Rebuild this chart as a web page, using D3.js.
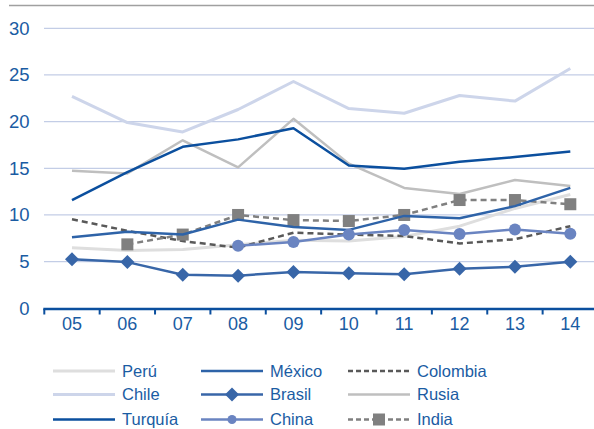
<!DOCTYPE html>
<html><head><meta charset="utf-8">
<script src="https://cdn.jsdelivr.net/npm/d3@7"></script>
<style>html,body{margin:0;padding:0;background:#fff;}svg{display:block;font-family:"Liberation Sans",Arial,sans-serif;}</style>
</head><body><svg id="c" width="594" height="429"></svg>
<script>
const years = ["05","06","07","08","09","10","11","12","13","14"];
const yTicks = [0,5,10,15,20,25,30];
const peru     = [6.5,6.2,6.3,6.8,7.3,7.2,7.7,8.8,10.7,12.2];
const chile    = [22.7,19.9,18.9,21.3,24.3,21.4,20.9,22.8,22.2,25.7];
const turquia  = [11.6,14.6,17.3,18.1,19.3,15.3,14.95,15.7,16.2,16.8];
const rusia    = [14.75,14.45,18.0,15.1,20.3,15.5,12.9,12.25,13.75,13.1];
const mexico   = [7.6,8.2,7.9,9.5,8.7,8.4,9.9,9.65,10.95,12.9];
const colombia = [9.55,8.3,7.2,6.5,8.1,7.9,7.75,6.95,7.4,8.8];
const brasil   = [5.25,4.95,3.6,3.5,3.9,3.75,3.65,4.25,4.45,5.0];
const china    = [null,null,null,6.7,7.1,7.9,8.4,7.95,8.45,8.0];
const india    = [null,6.85,7.9,10.0,9.45,9.35,10.0,11.6,11.6,11.15];

const series = [
  {name:"Perú", values:peru, color:"#dedede", width:3, dash:null, marker:null},
  {name:"Chile", values:chile, color:"#cdd5ea", width:3, dash:null, marker:null},
  {name:"Turquía", values:turquia, color:"#0b4f9e", width:2.5, dash:null, marker:null},
  {name:"México", values:mexico, color:"#2e63a8", width:2.5, dash:null, marker:null},
  {name:"Brasil", values:brasil, color:"#3866a8", width:2.5, dash:null, marker:"diamond"},
  {name:"China", values:china, color:"#6a84c1", width:2.5, dash:null, marker:"circle"},
  {name:"Colombia", values:colombia, color:"#595959", width:2.5, dash:"6,4", marker:null},
  {name:"Rusia", values:rusia, color:"#bfbfbf", width:2.5, dash:null, marker:null},
  {name:"India", values:india, color:"#808080", width:2.5, dash:"6,4", marker:"square"}
];
const drawOrder = ["Chile","Rusia","Perú","Turquía","Colombia","India","México","China","Brasil"];
const legendOrder = [["Perú","México","Colombia"],["Chile","Brasil","Rusia"],["Turquía","China","India"]];

const svg = d3.select("#c");
const textColor = "#1a5ca3";
const x = d3.scaleBand().domain(years).range([44.3,598]).padding(0);
const y = d3.scaleLinear().domain([0,30]).range([308.3,28.3]);

// top rule
svg.append("line").attr("x1",9).attr("x2",594).attr("y1",5.5).attr("y2",5.5)
  .attr("stroke","#a0a0a0").attr("stroke-width",1.5);

// gridlines
svg.append("g").selectAll("line").data(yTicks.filter(d=>d>0)).join("line")
  .attr("x1",44).attr("x2",594).attr("y1",d=>y(d)).attr("y2",d=>y(d))
  .attr("stroke","#c3cde6").attr("stroke-width",1.3);

// y labels
svg.append("g").selectAll("text").data(yTicks).join("text")
  .attr("x",29.5).attr("y",d=>y(d)).attr("dy","0.35em").attr("text-anchor","end")
  .attr("font-size",18.5).attr("fill",textColor).text(d=>d);

// x axis
const xAxis = d3.axisBottom(x).tickSize(0).tickFormat(d=>d);
const gx = svg.append("g").attr("transform","translate(0,309)").call(xAxis);
gx.select(".domain").remove();
gx.selectAll("text").attr("font-size",18).attr("fill",textColor).attr("dy","1.0em")
  .attr("font-family","Liberation Sans, Arial, sans-serif");
svg.append("line").attr("x1",43.3).attr("x2",598).attr("y1",309).attr("y2",309)
  .attr("stroke","#0b4f9e").attr("stroke-width",2.5);
const bounds = years.map(d=>x(d)).concat([x.range()[1]]);
svg.append("g").selectAll("line").data(bounds).join("line")
  .attr("x1",d=>d).attr("x2",d=>d).attr("y1",309).attr("y2",314.5)
  .attr("stroke","#0b4f9e").attr("stroke-width",2);

const cx = d=>x(d)+x.bandwidth()/2;
const line = d3.line().defined(d=>d.v!=null).x(d=>cx(d.yr)).y(d=>y(d.v));

function marker(g, type, color, px, py){
  if(type==="diamond"){
    const s = 7;
    g.append("path").attr("d",`M${px},${py-s}L${px+s},${py}L${px},${py+s}L${px-s},${py}Z`).attr("fill",color);
  } else if(type==="circle"){
    g.append("circle").attr("cx",px).attr("cy",py).attr("r",6).attr("fill",color);
  } else if(type==="square"){
    const s = 6;
    g.append("rect").attr("x",px-s).attr("y",py-s).attr("width",2*s).attr("height",2*s).attr("fill",color);
  }
}

const plot = svg.append("g");
drawOrder.forEach(n=>{
  const s = series.find(d=>d.name===n);
  const pts = years.map((yr,i)=>({yr, v:s.values[i]}));
  plot.append("path").datum(pts).attr("d",line).attr("fill","none")
    .attr("stroke",s.color).attr("stroke-width",s.width)
    .attr("stroke-dasharray",s.dash).attr("stroke-linejoin","round");
  if(s.marker){
    pts.filter(d=>d.v!=null).forEach(d=>marker(plot,s.marker,s.color,cx(d.yr),y(d.v)));
  }
});

// legend
const colX = [53,201,348];
const rowY = [371,394.5,419.5];
const leg = svg.append("g");
legendOrder.forEach((row,ri)=>row.forEach((n,ci)=>{
  const s = series.find(d=>d.name===n);
  const x0 = colX[ci], yy = rowY[ri];
  leg.append("line").attr("x1",x0).attr("x2",x0+62).attr("y1",yy).attr("y2",yy)
    .attr("stroke",s.color).attr("stroke-width",s.width)
    .attr("stroke-dasharray",s.dash ? "5,3" : null);
  if(s.marker==="diamond"){
    leg.append("path").attr("d",`M${x0+31},${yy-7}L${x0+38},${yy}L${x0+31},${yy+7}L${x0+24},${yy}Z`).attr("fill",s.color);
  } else if(s.marker==="circle"){
    leg.append("circle").attr("cx",x0+31).attr("cy",yy).attr("r",4.5).attr("fill",s.color);
  } else if(s.marker==="square"){
    leg.append("rect").attr("x",x0+25).attr("y",yy-6).attr("width",12).attr("height",12).attr("fill",s.color);
  }
  leg.append("text").attr("x",x0+69).attr("y",yy).attr("dy","0.36em")
    .attr("font-size",16.5).attr("fill",textColor).text(n);
}));
</script></body></html>
